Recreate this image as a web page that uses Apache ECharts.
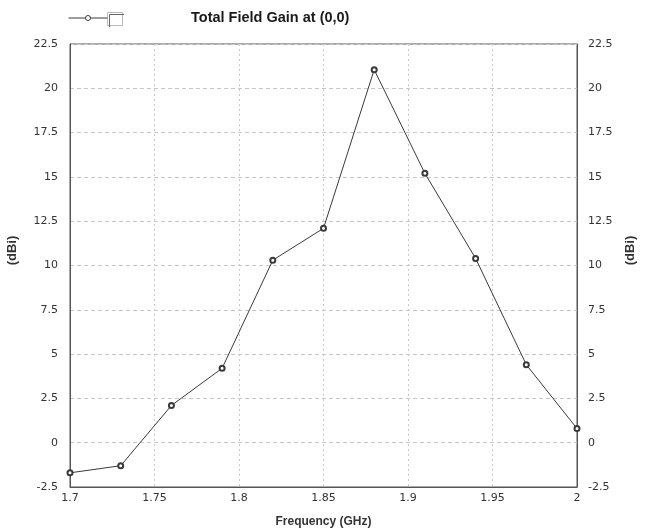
<!DOCTYPE html>
<html>
<head>
<meta charset="utf-8">
<script src="https://cdn.jsdelivr.net/npm/echarts@6/dist/echarts.min.js"></script>
<style>
  html, body { margin: 0; padding: 0; background: #fff; }
  #chart { width: 645px; height: 532px; }
</style>
</head>
<body>
<div id="chart"></div>
<script>
// Frequency sweep (GHz) and total field gain (dBi)
const frequencies = [1.70, 1.73, 1.76, 1.79, 1.82, 1.85, 1.88, 1.91, 1.94, 1.97, 2.00];
const gainDbi = [-1.7, -1.3, 2.1, 4.2, 10.3, 12.1, 21.05, 15.2, 10.4, 4.4, 0.8];
const seriesName = 'Total Field Gain at (0,0)';

const FONT = '"DejaVu Sans", Verdana, sans-serif';
const BOLD_FONT = '"Liberation Sans", Arial, sans-serif';
const LABEL_COLOR = '#333';
const AXIS_COLOR = '#555';
const LINE_COLOR = '#3a3a3a';

// Legend glyph: short line, small open circle, short line
const LEGEND_ICON = 'path://M0,4L17,4M22,4L39,4M17,4A2.5,2.5,0,1,1,22,4A2.5,2.5,0,1,1,17,4Z';

const chart = echarts.init(document.getElementById('chart'));

function yAxisDef(position, margin) {
  return {
    type: 'value',
    position: position,
    min: -2.5,
    max: 22.5,
    interval: 2.5,
    name: '(dBi)',
    nameLocation: 'middle',
    nameRotate: 90,
    nameGap: position === 'left' ? 51 : 47,
    nameTextStyle: {
      fontFamily: BOLD_FONT, fontWeight: 'bold', fontSize: 13, color: LABEL_COLOR,
      padding: [0, 0, 0, 30]
    },
    axisLine: { show: true, onZero: false, lineStyle: { color: AXIS_COLOR, width: 1 } },
    axisTick: { show: false },
    axisLabel: {
      fontFamily: FONT, fontSize: 11, color: LABEL_COLOR, margin: margin,
      formatter: v => String(+v.toFixed(2))
    },
    splitLine: position === 'left'
      ? { show: true, lineStyle: { color: '#c8c8c8', type: [4, 3], width: 1 } }
      : { show: false }
  };
}

chart.setOption({
  animation: false,
  backgroundColor: '#fff',
  title: {
    text: seriesName,
    left: 191,
    top: 10,
    padding: 0,
    textStyle: { fontFamily: BOLD_FONT, fontWeight: 'bold', fontSize: 14.5, color: '#1a1a1a' }
  },
  legend: {
    left: 68,
    top: 15,
    padding: 0,
    itemWidth: 39,
    itemHeight: 5,
    formatter: () => '',
    selectedMode: false,
    data: [{
      name: seriesName,
      icon: LEGEND_ICON,
      itemStyle: { color: '#fff', borderColor: LINE_COLOR, borderWidth: 1 }
    }]
  },
  graphic: [
    {
      type: 'rect',
      left: 107, top: 12,
      shape: { width: 15, height: 13 },
      style: { fill: '#fff', stroke: '#bbb', lineWidth: 1 }
    },
    {
      type: 'polyline',
      left: 107, top: 12,
      shape: { points: [[0.5, 13], [0.5, 0.5], [15, 0.5]] },
      style: { fill: null, stroke: '#666', lineWidth: 1 }
    }
  ],
  grid: {
    left: 70, right: 68, top: 44, bottom: 45,
    outerBoundsMode: 'none',
    containLabel: false,
    show: true, borderColor: AXIS_COLOR, borderWidth: 1, backgroundColor: '#fff'
  },
  xAxis: {
    type: 'value',
    min: 1.7,
    max: 2.0,
    interval: 0.05,
    name: 'Frequency (GHz)',
    nameLocation: 'middle',
    nameGap: 29,
    nameTextStyle: { fontFamily: BOLD_FONT, fontWeight: 'bold', fontSize: 12, color: LABEL_COLOR },
    axisLine: { show: true, onZero: false, lineStyle: { color: AXIS_COLOR, width: 1 } },
    axisTick: { show: false },
    axisLabel: {
      fontFamily: FONT, fontSize: 11, color: LABEL_COLOR, margin: 6,
      formatter: v => String(+v.toFixed(2))
    },
    splitLine: { show: true, lineStyle: { color: '#c8c8c8', type: [2, 3], width: 1 } }
  },
  yAxis: [yAxisDef('left', 12), yAxisDef('right', 11)],
  series: [{
    name: seriesName,
    type: 'line',
    data: frequencies.map((f, i) => [f, gainDbi[i]]),
    symbol: 'emptyCircle',
    symbolSize: 5,
    lineStyle: { color: LINE_COLOR, width: 1 },
    itemStyle: { color: LINE_COLOR, borderColor: LINE_COLOR, borderWidth: 1 }
  }]
});
</script>
</body>
</html>
